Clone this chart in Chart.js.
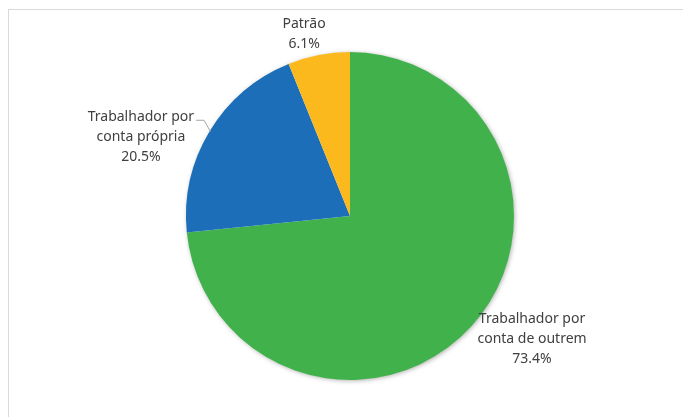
<!DOCTYPE html>
<html>
<head>
<meta charset="utf-8">
<script src="https://cdn.jsdelivr.net/npm/chart.js@4"></script>
<style>
  html, body { margin: 0; padding: 0; background: #fff; }
  #wrap { position: relative; width: 683px; height: 417px; overflow: hidden; }
  #frame { position: absolute; left: 8px; top: 9px; width: 700px; height: 420px;
           border-top: 1px solid #d9d9d9; border-left: 1px solid #d9d9d9; }
  canvas { position: absolute; left: 0; top: 0; }
</style>
</head>
<body>
<div id="wrap">
  <div id="frame"></div>
  <canvas id="pieChart" width="683" height="417"></canvas>
</div>
<script>
// Data
const categories = ['Trabalhador por conta de outrem', 'Trabalhador por conta própria', 'Patrão'];
const labelLines = [['Trabalhador por', 'conta de outrem'], ['Trabalhador por', 'conta própria'], ['Patrão']];
const shares = [73.4, 20.5, 6.1];
const colors = ['#41b24b', '#1c6eb8', '#fbb91e'];

// label anchor relative to pie centre, in units of radius
const labelAnchors = [[1.11, 0.75], [-1.275, -0.48], [-0.28, -1.11]];

// soft shadow under the pie
const pieShadow = {
    id: 'pieShadow',
    beforeDatasetsDraw(chart) {
        const arc = chart.getDatasetMeta(0).data[0];
        if (!arc) return;
        const ctx = chart.ctx;
        ctx.save();
        ctx.shadowColor = 'rgba(0,0,0,0.35)';
        ctx.shadowBlur = 5;
        ctx.shadowOffsetX = 1;
        ctx.shadowOffsetY = 1;
        ctx.fillStyle = '#fff';
        ctx.beginPath();
        ctx.arc(arc.x, arc.y, arc.outerRadius - 0.5, 0, Math.PI * 2);
        ctx.fill();
        ctx.restore();
    }
};

// data labels outside the slices
const pieLabels = {
    id: 'pieLabels',
    afterDatasetsDraw(chart) {
        const ctx = chart.ctx;
        const meta = chart.getDatasetMeta(0);
        ctx.save();
        ctx.font = '14px "Noto Sans", sans-serif';
        ctx.fillStyle = '#404040';
        ctx.textAlign = 'center';
        ctx.textBaseline = 'middle';
        const lineH = 20;
        meta.data.forEach((arc, i) => {
            const r = arc.outerRadius;
            const cx = arc.x + labelAnchors[i][0] * r;
            const cy = arc.y + labelAnchors[i][1] * r;
            const lines = labelLines[i].concat([shares[i].toFixed(1) + '%']);
            const y0 = cy - (lines.length - 1) * lineH / 2;
            lines.forEach((t, k) => ctx.fillText(t, cx, y0 + k * lineH));

            // leader line for the left label
            if (i === 1) {
                const w = ctx.measureText(lines[0]).width;
                const sx = cx + w / 2 + 2;
                const sy = y0 + 3;
                const mid = (arc.startAngle + arc.endAngle) / 2;
                const ex = arc.x + Math.cos(mid) * (r - 1);
                const ey = arc.y + Math.sin(mid) * (r - 1);
                ctx.strokeStyle = '#a6a6a6';
                ctx.lineWidth = 1;
                ctx.beginPath();
                ctx.moveTo(sx, sy);
                ctx.lineTo(sx + 8, sy);
                ctx.lineTo(ex, ey);
                ctx.stroke();
            }
        });
        ctx.restore();
    }
};

new Chart(document.getElementById('pieChart'), {
    type: 'pie',
    data: {
        labels: categories,
        datasets: [{
            data: shares,
            backgroundColor: colors,
            borderWidth: 0
        }]
    },
    options: {
        responsive: false,
        animation: false,
        layout: {
            padding: { left: 186, right: 169, top: 52, bottom: 37 }
        },
        plugins: {
            legend: { display: false },
            tooltip: { enabled: false }
        }
    },
    plugins: [pieShadow, pieLabels]
});
</script>
</body>
</html>
